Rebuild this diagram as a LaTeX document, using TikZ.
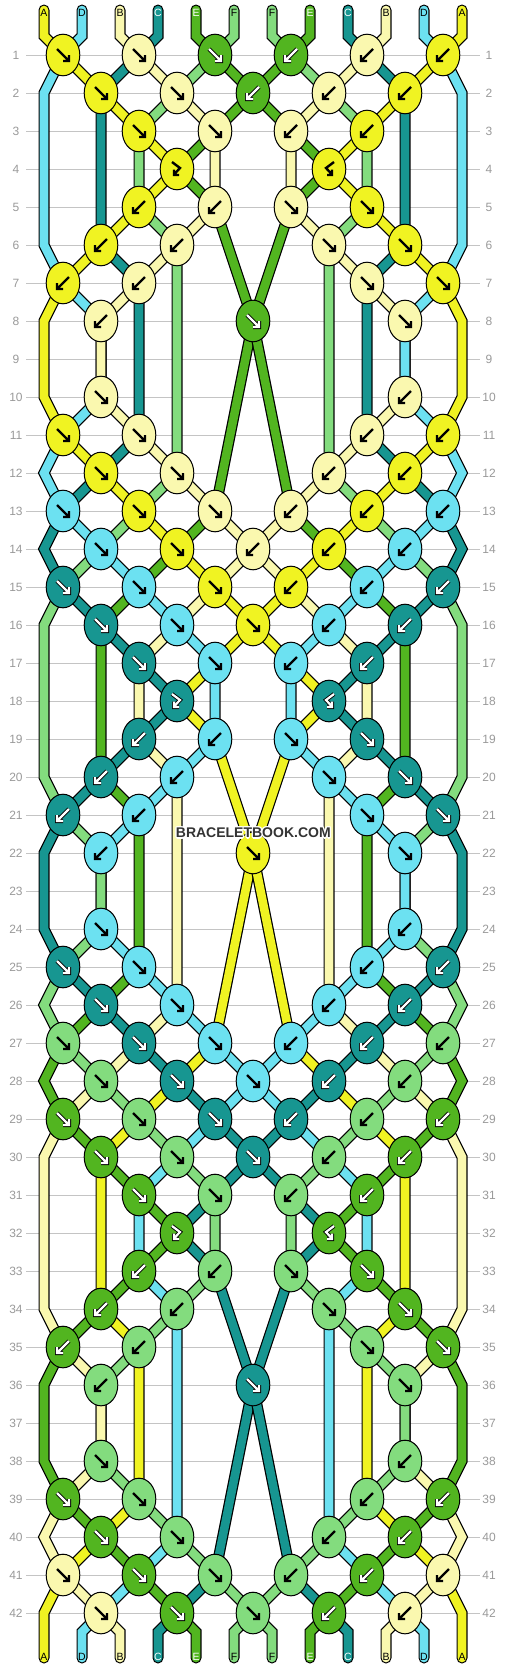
\documentclass[tikz,border=0pt]{standalone}
\usepackage{fontspec}
\setmainfont{Liberation Sans}
\definecolor{cA}{HTML}{F0F322}
\definecolor{cD}{HTML}{6CE1F1}
\definecolor{cB}{HTML}{FAF8AF}
\definecolor{cC}{HTML}{179691}
\definecolor{cE}{HTML}{52B520}
\definecolor{cF}{HTML}{83DC7E}
\definecolor{gridc}{HTML}{C4C4C4}
\definecolor{labc}{HTML}{9A9A9A}
\definecolor{txtc}{HTML}{333333}

\ExplSyntaxOn
\int_new:N \l_bb_r_int
\int_new:N \l_bb_y_int
\int_new:N \l_bb_x_int
\int_new:N \l_bb_L_int
\int_new:N \l_bb_idL_int
\int_new:N \l_bb_idR_int
\int_new:N \l_bb_idK_int
\bool_new:N \l_bb_swap_bool
\tl_new:N \l_bb_c_tl
\tl_new:N \g_bb_knots_tl
\intarray_new:Nn \g_bb_slot_intarray { 12 }
\int_step_inline:nnn { 0 } { 11 } { \tl_new:c { g_bb_path_#1_tl } }
\clist_const:Nn \c_bb_colors_clist { cA,cD,cB,cC,cE,cF,cF,cE,cC,cB,cD,cA }
\clist_const:Nn \c_bb_arrows_clist { black,black,black,white,white,black,black,white,white,black,black,black }
\clist_const:Nn \c_bb_rows_clist
 {
  fffbbb,ffbbb,xffbbx,xpxqx,xbbffx,bbxff,bbxxff,bxfxf,xxxxxx,fxxxb,
  ffxxbb,ffxbb,fffbbb,ffbbb,fffbbb,fffbb,xffbbx,xpxqx,xbbffx,bbxff,
  bbxxff,bxfxf,xxxxxx,fxxxb,ffxxbb,ffxbb,fffbbb,fffbb,fffbbb,fffbb,
  xffbbx,xpxqx,xbbffx,bbxff,bbxxff,bxfxf,xxxxxx,fxxxb,ffxxbb,ffxbb,
  fffbbb,fffbb
 }
\cs_new_protected:Npn \bb_point:nnn #1#2#3
 { \tl_gput_right:cx { g_bb_path_#1_tl } { --(#2,#3) } }
\cs_new_protected:Npn \bb_knot:
 {
  \exp_args:NV \str_if_eq:nnF \l_bb_c_tl { x }
   {
    \int_set:Nn \l_bb_idL_int { \intarray_item:Nn \g_bb_slot_intarray { \l_bb_L_int + 1 } }
    \int_set:Nn \l_bb_idR_int { \intarray_item:Nn \g_bb_slot_intarray { \l_bb_L_int + 2 } }
    \bb_point:nnn { \int_use:N \l_bb_idL_int } { \int_use:N \l_bb_x_int } { \int_use:N \l_bb_y_int }
    \bb_point:nnn { \int_use:N \l_bb_idR_int } { \int_use:N \l_bb_x_int } { \int_use:N \l_bb_y_int }
    \exp_args:NV \str_case:nn \l_bb_c_tl
     {
      {f} { \int_set_eq:NN \l_bb_idK_int \l_bb_idL_int \bool_set_true:N \l_bb_swap_bool }
      {p} { \int_set_eq:NN \l_bb_idK_int \l_bb_idL_int \bool_set_false:N \l_bb_swap_bool }
      {b} { \int_set_eq:NN \l_bb_idK_int \l_bb_idR_int \bool_set_true:N \l_bb_swap_bool }
      {q} { \int_set_eq:NN \l_bb_idK_int \l_bb_idR_int \bool_set_false:N \l_bb_swap_bool }
     }
    \tl_gput_right:Nx \g_bb_knots_tl
     {
      \exp_not:N \bbknot
       { \int_use:N \l_bb_x_int } { \int_use:N \l_bb_y_int }
       { \clist_item:Nn \c_bb_colors_clist { \l_bb_idK_int + 1 } }
       { \clist_item:Nn \c_bb_arrows_clist { \l_bb_idK_int + 1 } }
       { \l_bb_c_tl }
     }
    \bool_if:NT \l_bb_swap_bool
     {
      \intarray_gset:Nnn \g_bb_slot_intarray { \l_bb_L_int + 1 } { \l_bb_idR_int }
      \intarray_gset:Nnn \g_bb_slot_intarray { \l_bb_L_int + 2 } { \l_bb_idL_int }
     }
   }
 }
\int_step_inline:nnn { 0 } { 11 }
 {
  \intarray_gset:Nnn \g_bb_slot_intarray { #1 + 1 } { #1 }
  \tl_gset:cx { g_bb_path_#1_tl } { (\int_eval:n { 44 + 38 * #1 },10)--(\int_eval:n { 44 + 38 * #1 },36) }
 }
\clist_map_inline:Nn \c_bb_rows_clist
 {
  \int_incr:N \l_bb_r_int
  \int_set:Nn \l_bb_y_int { 55 + 38 * ( \l_bb_r_int - 1 ) }
  \int_if_odd:nTF { \l_bb_r_int }
   {
    \int_step_inline:nnn { 0 } { 5 }
     {
      \int_set:Nn \l_bb_L_int { 2 * ##1 }
      \int_set:Nn \l_bb_x_int { 253 + 38 * ( 2 * ##1 - 5 ) }
      \tl_set:Nx \l_bb_c_tl { \tl_item:nn {#1} { ##1 + 1 } }
      \bb_knot:
     }
   }
   {
    \bb_point:nnn { \intarray_item:Nn \g_bb_slot_intarray { 1 } } { 44 } { \int_use:N \l_bb_y_int }
    \bb_point:nnn { \intarray_item:Nn \g_bb_slot_intarray { 12 } } { 462 } { \int_use:N \l_bb_y_int }
    \int_step_inline:nnn { 0 } { 4 }
     {
      \int_set:Nn \l_bb_L_int { 2 * ##1 + 1 }
      \int_set:Nn \l_bb_x_int { 253 + 38 * ( 2 * ##1 - 4 ) }
      \tl_set:Nx \l_bb_c_tl { \tl_item:nn {#1} { ##1 + 1 } }
      \bb_knot:
     }
   }
 }
\int_step_inline:nnn { 0 } { 11 }
 {
  \bb_point:nnn { \intarray_item:Nn \g_bb_slot_intarray { #1 + 1 } } { \int_eval:n { 44 + 38 * #1 } } { 1632 }
  \bb_point:nnn { \intarray_item:Nn \g_bb_slot_intarray { #1 + 1 } } { \int_eval:n { 44 + 38 * #1 } } { 1658 }
 }
\cs_new:Npn \bbpath #1 { \tl_use:c { g_bb_path_#1_tl } }
\cs_new:Npn \bbcol #1 { \clist_item:Nn \c_bb_colors_clist { #1 + 1 } }
\cs_new_protected:Npn \bbknots { \tl_use:N \g_bb_knots_tl }
\ExplSyntaxOff

\def\bbwhite{white}
\newcommand\bbarrdraw[2]{%
  \def\bbtmpc{#1}%
  \ifx\bbtmpc\bbwhite
    \draw[black,line width=4pt,line cap=square,line join=miter] #2;
    \draw[white,line width=2.2pt,line cap=butt,line join=miter] #2;
  \else
    \draw[black,line width=2.4pt,line cap=butt,line join=miter] #2;
  \fi}
\newcommand\bbarrf[1]{\bbarrdraw{#1}{(-6,-6)--(5.5,5.5) (0,6)--(6,6)--(6,0)}}
\newcommand\bbarrb[1]{\bbarrdraw{#1}{(6,-6)--(-5.5,5.5) (0,6)--(-6,6)--(-6,0)}}
\newcommand\bbarrp[1]{\bbarrdraw{#1}{(-5,-7)--(3,-1)--(-3,5.5) (-3,0.5)--(-3,6)--(2,6)}}
\newcommand\bbarrq[1]{\bbarrdraw{#1}{(5,-7)--(-3,-1)--(3,5.5) (3,0.5)--(3,6)--(-2,6)}}
\newcommand\bbknot[5]{%
  \filldraw[fill=#3,draw=black,line width=1pt] (#1,#2) ellipse [x radius=16.8pt,y radius=20.8pt];
  \begin{scope}[shift={(#1,#2)}]\csname bbarr#5\endcsname{#4}\end{scope}}

\begin{document}
\begin{tikzpicture}[x=1pt,y=-1pt]
\fill[white] (0,0) rectangle (506,1668);
\useasboundingbox (0,0) rectangle (506,1668);
% grid and row numbers
\foreach \r in {1,...,42}{
  \pgfmathtruncatemacro\yy{55+38*(\r-1)}
  \draw[gridc,line width=1pt] (26,\yy)--(480,\yy);
  \node[text=labc,font=\fontsize{12}{12}\selectfont,inner sep=0pt] (ll\r) at (16,\yy) {\r};
  \node[text=labc,font=\fontsize{12}{12}\selectfont,inner sep=0pt] (lr\r) at (489,\yy) {\r};
}
% strings
\foreach \i in {0,...,11}{
  \edef\bbtmp{\noexpand\draw[line width=11pt,black,line cap=round,line join=miter] \bbpath{\i};
    \noexpand\draw[line width=8.6pt,\bbcol{\i},line cap=round,line join=miter] \bbpath{\i};}
  \bbtmp
}
% knots
\bbknots
% string letters
\foreach \l/\c [count=\i from 0] in {A/black,D/black,B/black,C/white,E/white,F/black,F/black,E/white,C/white,B/black,D/black,A/black}{
  \node[text=\c,font=\fontsize{10.5}{10.5}\selectfont,inner sep=0pt] (t\i) at ({44+38*\i},12.5) {\l};
  \node[text=\c,font=\fontsize{10.5}{10.5}\selectfont,inner sep=0pt] (b\i) at ({44+38*\i},1656.5) {\l};
}
% watermark
\foreach \dx/\dy in {-1.3/0,1.3/0,0/-1.3,0/1.3,-1/-1,1/1,-1/1,1/-1}{
  \node[text=white,font=\bfseries\fontsize{14}{14}\selectfont,inner sep=0pt] at (253.3+\dx,833+\dy) {BRACELETBOOK.COM};
}
\node[text=txtc,font=\bfseries\fontsize{14}{14}\selectfont,inner sep=0pt] (wm) at (253.3,833) {BRACELETBOOK.COM};
\end{tikzpicture}
\end{document}
